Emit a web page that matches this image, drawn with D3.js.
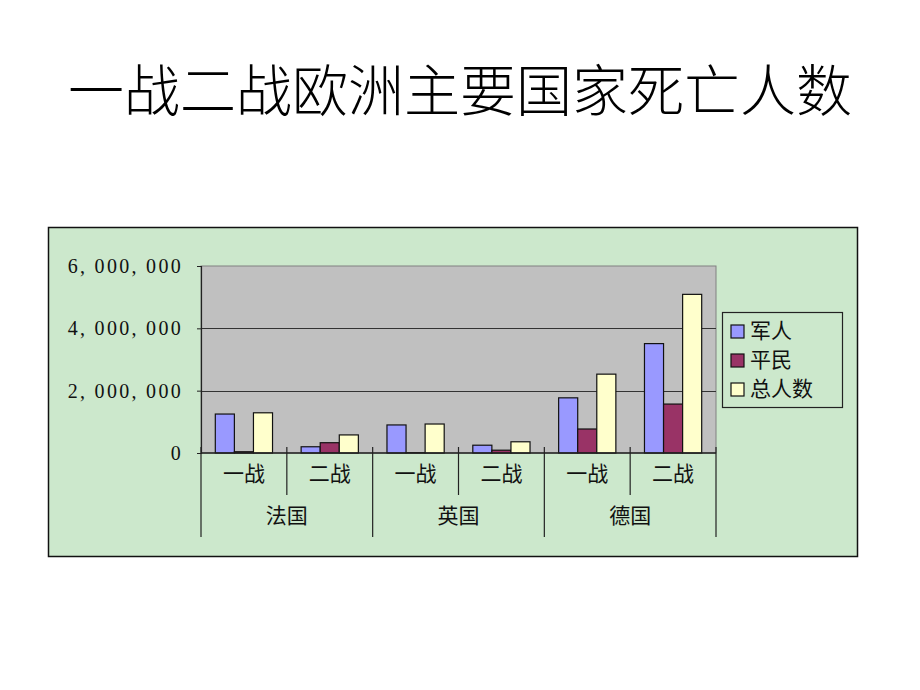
<!DOCTYPE html>
<html><head><meta charset="utf-8">
<script src="https://cdn.jsdelivr.net/npm/d3@7"></script>
<style>body{margin:0;background:#fff;}svg{display:block;}</style>
</head><body>
<svg id="c" width="920" height="690"></svg>
<script>
const title = "一战二战欧洲主要国家死亡人数";
const countries = ["法国", "英国", "德国"];
const wars = ["一战", "二战"];
const seriesNames = ["军人", "平民", "总人数"];
const military = [1250000, 200000, 900000, 250000, 1770000, 3510000];
const civilian = [40000, 330000, 10000, 90000, 770000, 1570000];
const total = [1290000, 580000, 930000, 360000, 2530000, 5090000];
const yTicks = [0, 2000000, 4000000, 6000000];
const colors = ["#9999ff", "#993366", "#ffffcc"];

const series = [military, civilian, total];
const groups = [];
countries.forEach(c => wars.forEach(w => groups.push(c + "|" + w)));

const svg = d3.select("#c");
const serif = "'Liberation Serif','DejaVu Serif',serif";
const cjk = "'Noto Sans CJK SC','Noto Sans',sans-serif";

svg.append("text").attr("x", 460).attr("y", 111).attr("text-anchor", "middle")
  .attr("font-family", cjk).attr("font-size", 56).attr("font-weight", 300)
  .attr("fill", "#000").text(title);

// chart area
svg.append("rect").attr("x", 48.5).attr("y", 227.5).attr("width", 809).attr("height", 329)
  .attr("fill", "#cce8cc").attr("stroke", "#111").attr("stroke-width", 1.5);

const L = 201, R = 716, T = 266, B = 453;
const x0 = d3.scaleBand().domain(groups).range([L, R]).paddingInner(0).paddingOuter(0);
const y = d3.scaleLinear().domain([0, 6000000]).range([B, T]);
const bw = x0.bandwidth() / 4.5;
const x1 = d3.scaleBand().domain(seriesNames).range([0.75 * bw, 3.75 * bw]);

svg.append("rect").attr("x", L).attr("y", T).attr("width", R - L).attr("height", B - T)
  .attr("fill", "#c0c0c0").attr("stroke", "#808080").attr("stroke-width", 1);

// gridlines
svg.append("g").selectAll("line").data(yTicks.filter(d => d > 0 && d < 6000000)).join("line")
  .attr("x1", L).attr("x2", R).attr("y1", d => Math.round(y(d)) + 0.5).attr("y2", d => Math.round(y(d)) + 0.5)
  .attr("stroke", "#333").attr("stroke-width", 1.2);

// bars
const gBars = svg.append("g");
series.forEach((vals, si) => {
  gBars.selectAll(null).data(vals).join("rect")
    .attr("x", (d, i) => x0(groups[i]) + x1(seriesNames[si]))
    .attr("y", d => y(d))
    .attr("width", x1.bandwidth())
    .attr("height", d => B - y(d))
    .attr("fill", colors[si]).attr("stroke", "#111").attr("stroke-width", 1.2);
});

// y axis
const yAxis = d3.axisLeft(y).tickValues(yTicks).tickSize(4).tickPadding(14)
  .tickFormat(d => d3.format(",")(d).replace(/,/g, ", "));
const ya = svg.append("g").attr("transform", `translate(${L},0)`).call(yAxis);
ya.select(".domain").attr("stroke", "#222").attr("stroke-width", 1.2);
ya.selectAll(".tick line").attr("stroke", "#222");
ya.selectAll("text").attr("font-family", serif).attr("font-size", 20).attr("fill", "#111")
  .attr("letter-spacing", 2.3);

// x axis line
svg.append("line").attr("x1", L).attr("x2", R).attr("y1", B).attr("y2", B)
  .attr("stroke", "#222").attr("stroke-width", 1.4);

// separators
const gx = svg.append("g");
groups.forEach((g, i) => {
  const xs = x0(g);
  const isCountry = i % 2 === 0;
  gx.append("line").attr("x1", xs).attr("x2", xs).attr("y1", B - 6).attr("y2", isCountry ? 537 : 495)
    .attr("stroke", "#222").attr("stroke-width", 1.2);
  gx.append("text").attr("x", xs + x0.bandwidth() / 2).attr("y", 481).attr("text-anchor", "middle")
    .attr("font-family", cjk).attr("font-size", 21).attr("fill", "#111").text(g.split("|")[1]);
});
gx.append("line").attr("x1", R).attr("x2", R).attr("y1", B - 6).attr("y2", 537)
  .attr("stroke", "#222").attr("stroke-width", 1.2);
countries.forEach((c, ci) => {
  const xa = x0(c + "|" + wars[0]);
  gx.append("text").attr("x", xa + x0.bandwidth()).attr("y", 523).attr("text-anchor", "middle")
    .attr("font-family", cjk).attr("font-size", 21).attr("fill", "#111").text(c);
});

// legend
const lg = svg.append("g");
lg.append("rect").attr("x", 722.5).attr("y", 312.5).attr("width", 120).attr("height", 95)
  .attr("fill", "#cce8cc").attr("stroke", "#222").attr("stroke-width", 1.2);
seriesNames.forEach((s, i) => {
  const yy = 325 + i * 29;
  lg.append("rect").attr("x", 731).attr("y", yy).attr("width", 13).attr("height", 13)
    .attr("fill", colors[i]).attr("stroke", "#111").attr("stroke-width", 1.2);
  lg.append("text").attr("x", 750).attr("y", yy + 13).attr("font-family", cjk).attr("font-size", 21)
    .attr("fill", "#111").text(s);
});
</script>
</body></html>
